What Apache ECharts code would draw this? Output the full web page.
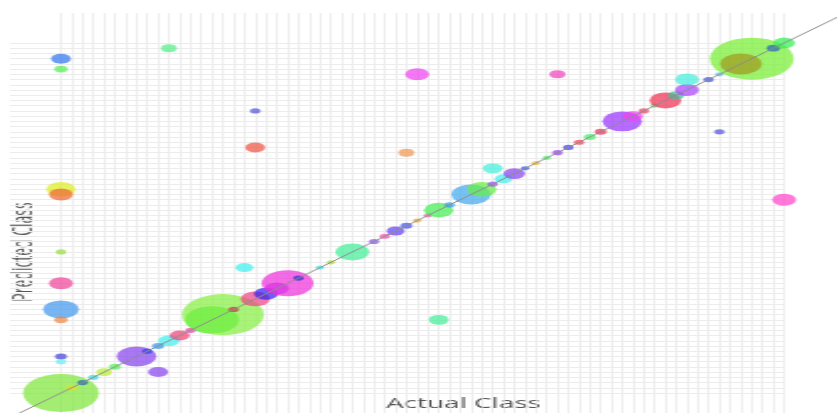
<!DOCTYPE html>
<html>
<head>
<meta charset="utf-8">
<script src="https://cdn.jsdelivr.net/npm/echarts@6/dist/echarts.min.js"></script>
<style>
  html, body { margin: 0; padding: 0; background: #fff; overflow: hidden; }
  /* the plot is drawn narrow and widened 2x, giving the wide, flattened look */
  #chart { position: absolute; left: 0; top: 0; width: 419px; height: 413px;
           transform: scaleX(1.9976); transform-origin: 0 0; }
</style>
</head>
<body>
<div id="chart"></div>
<script>
// Confusion bubbles: actual class vs predicted class, bubble area ~ sample count
const classCount = 68;

const actualClass = [
  0, 1, 2, 3, 4, 5, 7, 8, 10, 9, 11, 12, 14, 15, 16, 18, 19, 20, 21, 22,
  24, 25, 27, 29, 30, 31, 32, 33, 34, 35, 36, 38, 39, 40, 41, 42, 43, 44, 45, 46,
  47, 48, 49, 50, 52, 53, 54, 55, 56, 57, 58, 60, 61, 64, 63, 66, 67,
  0, 0, 10, 33, 46, 18, 18, 32, 61, 40, 58, 0, 0, 67, 0, 17, 0, 0, 0, 35, 0, 0, 9
];
const predictedClass = [
  0, 1, 2, 3, 4, 5, 7, 8, 10, 9, 11, 12, 14, 15, 16, 18, 19, 20, 21, 22,
  24, 25, 27, 29, 30, 31, 32, 33, 34, 35, 36, 38, 39, 40, 41, 42, 43, 44, 45, 46,
  47, 48, 49, 50, 52, 53, 54, 55, 56, 57, 58, 60, 61, 64, 63, 66, 67,
  64, 62, 66, 61, 61, 54, 47, 46, 50, 43, 60, 39, 38, 37, 27, 24, 21, 16, 14, 14, 7, 6, 4
];
const sampleCount = [
  160, 4, 3, 3, 7, 4, 44, 3, 13, 4, 11, 3, 81, 187, 3, 24, 16, 16, 75, 3,
  2, 2, 32, 3, 3, 9, 4, 2, 2, 24, 3, 44, 24, 3, 9, 13, 2, 2, 2, 3,
  3, 3, 4, 4, 44, 11, 3, 2, 28, 7, 16, 3, 2, 196, 49, 5, 13,
  11, 5, 7, 16, 7, 3, 11, 7, 3, 11, 16, 24, 16, 16, 3, 9, 16, 36, 5, 11, 4, 3, 11
];
const pointColors = [
  '#7fe83c', '#e0e022', '#2266bb', '#33dddd', '#b8ee33', '#55ee55', '#8844ee', '#3344ee', '#44eeee', '#3399ee',
  '#ee4477', '#ee44aa', '#22ee33', '#88ee44', '#cc3344', '#ee4488', '#3322ee', '#9933ee', '#ee33dd', '#3333cc',
  '#44ddee', '#aadd33', '#44ee99', '#8855ee', '#ee55aa', '#6644ee', '#4455ee', '#eeaa33', '#ee66aa', '#44ee55',
  '#3399ee', '#44aaee', '#66ee44', '#9955ee', '#44eeee', '#8844ee', '#3355ee', '#eebb33', '#55ee66', '#9944ee',
  '#4444ee', '#ee4455', '#44ee66', '#ee3355', '#9933ff', '#ee44ee', '#ee4466', '#55ee77', '#ee3355', '#44bb99',
  '#aa44ff', '#4455dd', '#66bbee', '#77ee33', '#a09a1e', '#2266bb', '#33ee55',
  '#3377ee', '#55ee55', '#55ee88', '#ee44ee', '#ee44bb', '#5555dd', '#ee5544', '#ee9955', '#5555dd', '#44eedd',
  '#44eedd', '#ddee22', '#ee6633', '#ff44cc', '#99dd44', '#44eeee', '#ee4499', '#4499ee', '#ee8844', '#44ee99',
  '#4444dd', '#66eeee', '#8844ee'
];

const points = actualClass.map((a, i) => [a, predictedClass[i], sampleCount[i]]);
const classes = Array.from({ length: classCount }, (_, i) => i);
const last = classCount - 1;

// extents of the rule lattice in class units
const ruleLeft = -4.72, ruleTop = 72.74, ruleBottom = -3.83;

const columnRules = classes.map(c => [{ coord: [c, ruleBottom] }, { coord: [c, ruleTop] }]);
const rowRules = classes.map(c => [{ coord: [ruleLeft, c] }, { coord: [last, c] }]);

// identity line y = x, running past both ends of the class range
const lo = -10, hi = classCount + 12;

const markerBase = {
  silent: true, animation: false, z: 0, symbol: ['none', 'none'],
  label: { show: false }, emphasis: { disabled: true }
};

const chart = echarts.init(document.getElementById('chart'), null, { renderer: 'canvas' });
chart.setOption({
  animation: false,
  grid: { left: 0, right: 0, top: 0, bottom: 0 },
  xAxis: { type: 'value', min: -5.645, max: 71.9, show: false },
  yAxis: { type: 'value', min: -3.83, max: 75.23, show: false },
  graphic: [
    { type: 'text', x: 232, y: 404, silent: true,
      style: { text: 'Actual Class', font: '14px "Open Sans"', fill: '#555',
               align: 'center', verticalAlign: 'middle' } },
    { type: 'text', x: 12.5, y: 252, rotation: Math.PI / 2, silent: true,
      style: { text: 'Predicted Class', font: '14px "Open Sans"', fill: '#555',
               align: 'center', verticalAlign: 'middle' } }
  ],
  series: [
    {
      type: 'line', data: [], z: 0, silent: true,
      markLine: Object.assign({}, markerBase, {
        lineStyle: { color: '#e2e2e2', width: 0.6, type: 'solid' },
        data: columnRules
      })
    },
    {
      type: 'line', data: [], z: 0, silent: true,
      markLine: Object.assign({}, markerBase, {
        lineStyle: { color: '#ececec', width: 1, type: 'solid' },
        data: rowRules
      })
    },
    {
      type: 'scatter', z: 2,
      data: points,
      symbolSize: v => 3 * Math.sqrt(v[2]),
      itemStyle: { color: p => pointColors[p.dataIndex], opacity: 0.72 }
    },
    {
      type: 'line', z: 3, silent: true, symbol: 'none',
      data: [[lo, lo], [hi, hi]],
      lineStyle: { color: '#8c8c8c', width: 1 }
    }
  ]
});
</script>
</body>
</html>
